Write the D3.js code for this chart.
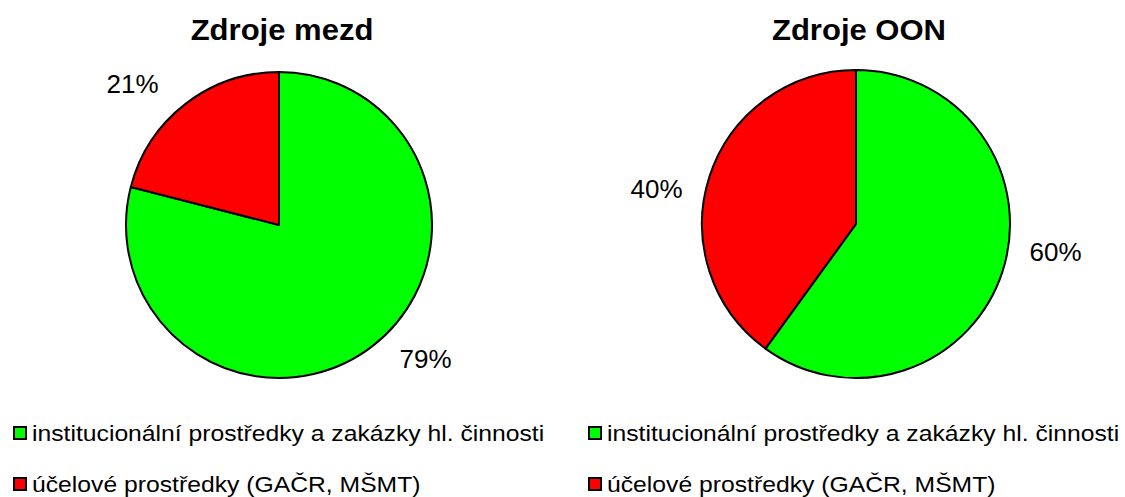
<!DOCTYPE html>
<html>
<head>
<meta charset="utf-8">
<script src="https://cdn.jsdelivr.net/npm/d3@7"></script>
<style>
    body { margin: 0; background: #fff; }
    svg { display: block; font-family: "Liberation Sans", Arial, sans-serif; }
</style>
</head>
<body>
<div id="chart"></div>
<script>
// data
const categories = ["institucionální prostředky a zakázky hl. činnosti", "účelové prostředky (GAČR, MŠMT)"];
const titles = ["Zdroje mezd", "Zdroje OON"];
const mezdValues = [79, 21];
const oonValues = [60, 40];
const colors = ["#00ff00", "#ff0000"];

const width = 1125, height = 497;

// layout of the two pies
const charts = [
    { title: titles[0], values: mezdValues, cx: 279, cy: 225, r: 153, titleX: 282, legendX: 14 },
    { title: titles[1], values: oonValues, cx: 856, cy: 224, r: 154, titleX: 859, legendX: 589 }
];

const svg = d3.select("#chart").append("svg")
    .attr("width", width)
    .attr("height", height);

const color = d3.scaleOrdinal().domain(categories).range(colors);
const pie = d3.pie().sort(null).value(d => d.value);
const pct = d3.format(".0%");

// the source text is drawn a little wider than the font
const stretchText = (sel, x, y, sx) => sel.attr("transform", `translate(${x},${y}) scale(${sx},1)`);

charts.forEach(c => {
    const data = categories.map((k, i) => ({ key: k, value: c.values[i] }));
    const total = d3.sum(data, d => d.value);
    const arcs = pie(data);

    const g = svg.append("g").attr("transform", `translate(${c.cx},${c.cy})`);
    const arc = d3.arc().innerRadius(0).outerRadius(c.r);

    g.selectAll("path.slice")
        .data(arcs)
        .enter().append("path")
        .attr("class", "slice")
        .attr("d", arc)
        .style("fill", d => color(d.data.key))
        .style("stroke", "#000")
        .style("stroke-width", 2)
        .style("stroke-linejoin", "round");

    // labels outside, nudged like excel does
    const labelR = c.r + 48;
    const shift = 9 * Math.PI / 180;
    const labelArc = d3.arc().innerRadius(labelR).outerRadius(labelR);
    g.selectAll("text.lbl")
        .data(arcs)
        .enter().append("text")
        .attr("class", "lbl")
        .attr("transform", d => {
            const p = labelArc.centroid({ startAngle: d.startAngle - shift, endAngle: d.endAngle - shift });
            return `translate(${p[0]},${p[1] - 4})`;
        })
        .attr("text-anchor", "middle")
        .attr("dy", "0.36em")
        .style("font-size", "26px")
        .style("fill", "#000")
        .text(d => pct(d.value / total));

    svg.append("text")
        .call(stretchText, c.titleX, 40, 1.07)
        .attr("text-anchor", "middle")
        .style("font-size", "29px")
        .style("font-weight", "bold")
        .text(c.title);

    // legend
    const leg = svg.append("g").attr("transform", `translate(${c.legendX},0)`);
    const rows = leg.selectAll("g.row")
        .data(categories)
        .enter().append("g")
        .attr("class", "row")
        .attr("transform", (d, i) => `translate(0,${441 + i * 51})`);

    rows.append("rect")
        .attr("x", 0)
        .attr("y", -14)
        .attr("width", 12)
        .attr("height", 12)
        .style("fill", d => color(d))
        .style("stroke", "#000")
        .style("stroke-width", 2);

    rows.append("text")
        .call(stretchText, 18, 0, 1.075)
        .style("font-size", "23px")
        .text(d => d);
});
</script>
</body>
</html>
